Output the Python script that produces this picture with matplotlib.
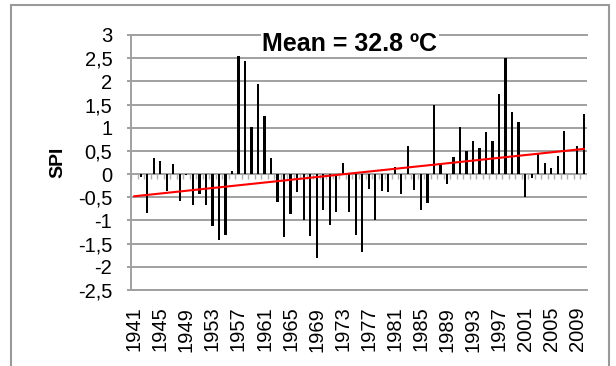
import matplotlib.pyplot as plt
from matplotlib.patches import Rectangle
import numpy as np

plt.rcParams['font.family'] = ['Liberation Sans', 'DejaVu Sans']

# SPI per year, 1941 - 2010
years = list(range(1941, 2011))
spi = [
    0.0, -0.07, -0.84, 0.34, 0.29, -0.37, 0.21, -0.57, -0.02, -0.66,   # 1941-1950
    -0.43, -0.66, -1.12, -1.43, -1.32, 0.06, 2.54, 2.44, 1.01, 1.94,   # 1951-1960
    1.26, 0.34, -0.61, -1.36, -0.87, -0.39, -0.99, -1.34, -1.82, -0.77,  # 1961-1970
    -1.09, -0.81, 0.24, -0.81, -1.31, -1.68, -0.32, -1.0, -0.37, -0.39,  # 1971-1980
    0.16, -0.43, 0.61, -0.34, -0.77, -0.62, 1.5, 0.21, -0.21, 0.36,    # 1981-1990
    1.01, 0.49, 0.71, 0.57, 0.91, 0.72, 1.73, 2.5, 1.34, 1.12,         # 1991-2000
    -0.5, -0.08, 0.44, 0.23, 0.13, 0.39, 0.93, 0.0, 0.61, 1.29,        # 2001-2010
]
yticks = [-2.5, -2, -1.5, -1, -0.5, 0, 0.5, 1, 1.5, 2, 2.5, 3]
title = 'Mean = 32.8 \u00baC'

grey = '#a0a0a0'

fig = plt.figure(figsize=(6.16, 3.66), dpi=100)
ax = fig.add_axes([131 / 616, 1 - 290 / 366, 456 / 616, 255 / 366])

x = np.arange(len(years))
ax.bar(x, spi, width=0.34, color='black', zorder=3)

# small category ticks hanging under the zero line
bounds = np.arange(len(years) + 1) - 0.5
ax.vlines(bounds, -0.11, 0, color='#b0b0b0', lw=1, zorder=2)

# linear trend
coef = np.polyfit(x, spi, 1)
ax.plot(x, np.polyval(coef, x), color='red', lw=1.5, zorder=4)

ax.set_xlim(-0.5, len(years) - 0.5)
ax.set_ylim(-2.5, 3)
ax.set_yticks(yticks)
ax.set_yticklabels([('%g' % v).replace('.', ',') for v in yticks])
ax.set_xticks(x[::4])
ax.set_xticklabels([str(y) for y in years[::4]], rotation=90)

ax.yaxis.grid(True, color=grey, lw=1.4)
ax.set_axisbelow(True)
ax.spines['right'].set_visible(False)
for s in ['left', 'bottom', 'top']:
    ax.spines[s].set_color(grey)
    ax.spines[s].set_linewidth(1.4)

ax.tick_params(axis='y', length=3, width=1.4, color=grey, labelsize=14.5, pad=10.5)
ax.tick_params(axis='x', length=0, labelsize=14.5, pad=12)

ax.set_ylabel('SPI', fontsize=14, fontweight='bold', va='center')
ax.yaxis.set_label_coords(-0.16, 0.5)

ax.text(0.48, 2.66, title, transform=ax.get_yaxis_transform(), ha='center',
        va='baseline', fontsize=18, fontweight='bold', zorder=5,
        bbox=dict(facecolor='white', edgecolor='none', pad=1))

# chart area frame
fig.add_artist(Rectangle((11 / 616, -0.1), 598 / 616, 1.1 - 5 / 366,
                         transform=fig.transFigure, fill=False, ec='#999999', lw=1.5))

fig.savefig('out.png', dpi=100)
